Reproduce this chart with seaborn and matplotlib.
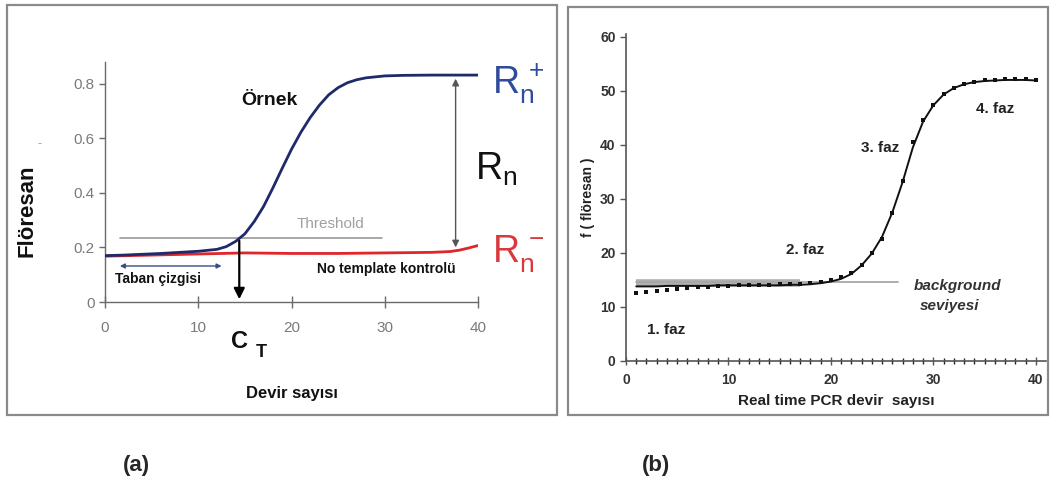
import matplotlib
matplotlib.use("Agg")
import matplotlib.pyplot as plt
import seaborn as sns
import pandas as pd
from matplotlib.patches import Rectangle

sns.set_theme(style="ticks")
plt.rcParams["font.family"] = ["Liberation Sans", "DejaVu Sans"]

# ---- panel (a): amplification vs. no-template control ----
cycles_a = [0, 2, 4, 6, 8, 10, 12, 13, 14, 15, 16, 17, 18, 19, 20, 21, 22, 23,
            24, 25, 26, 27, 28, 30, 32, 35, 38, 40]
sample_rn = [0.170, 0.172, 0.175, 0.178, 0.182, 0.186, 0.193, 0.203, 0.222,
             0.250, 0.295, 0.350, 0.418, 0.490, 0.560, 0.622, 0.676, 0.722,
             0.760, 0.786, 0.804, 0.815, 0.822, 0.829, 0.831, 0.832, 0.832, 0.832]
cycles_ntc = [0, 5, 10, 15, 20, 25, 30, 35, 37, 38, 39, 40]
ntc_rn = [0.168, 0.172, 0.176, 0.180, 0.178, 0.178, 0.180, 0.182, 0.185,
          0.190, 0.198, 0.207]
threshold = 0.235
threshold_span = [1.6, 29.7]
ct_cycle = 14.4
baseline_span = [1.3, 12.8]
rn_cycle = 37.6
yticks_a = [0, 0.2, 0.4, 0.6, 0.8]
yticklabels_a = ["0", "0.2", "0.4", "0.6", "0.8"]
xticks_a = [0, 10, 20, 30, 40]

# ---- panel (b): four phases of a real time PCR run ----
cycles_b = list(range(1, 41))
fit_f = [13.8, 13.8, 13.8, 13.9, 13.9, 13.9, 13.9, 13.9, 14.0, 14.0,
         14.0, 14.0, 14.0, 14.0, 14.0, 14.1, 14.1, 14.2, 14.4, 14.7,
         15.2, 16.1, 17.7, 19.9, 23.0, 27.5, 33.1, 39.5, 44.3, 47.3,
         49.3, 50.5, 51.2, 51.6, 51.8, 51.9, 52.0, 52.0, 52.0, 51.9]
measured_f = [12.6, 12.8, 13.0, 13.2, 13.35, 13.5, 13.6, 13.7, 13.8, 13.9,
              14.0, 14.0, 14.1, 14.1, 14.2, 14.2, 14.3, 14.5, 14.6, 14.9,
              15.5, 16.3, 17.8, 20.0, 22.6, 27.3, 33.3, 40.5, 44.6, 47.4,
              49.4, 50.6, 51.3, 51.7, 51.9, 52.0, 52.1, 52.1, 52.1, 51.9]
background_band = [1, 17]
background_line = [1, 26.6]
background_level = 14.4
yticks_b = [0, 10, 20, 30, 40, 50, 60]
xticks_b = [0, 10, 20, 30, 40]

df_sample = pd.DataFrame({"cycle": cycles_a, "rn": sample_rn})
df_ntc = pd.DataFrame({"cycle": cycles_ntc, "rn": ntc_rn})
df_fit = pd.DataFrame({"cycle": cycles_b, "f": fit_f})
df_meas = pd.DataFrame({"cycle": cycles_b, "f": measured_f})

W, H = 1051, 482
fig = plt.figure(figsize=(W / 100, H / 100), dpi=100)


def fig_box(x0, y0, x1, y1):
    """Rectangle in pixel coordinates measured from the top-left corner."""
    return [x0 / W, 1 - y1 / H, (x1 - x0) / W, (y1 - y0) / H]


# panel frames
for (x0, y0, x1, y1) in [(7, 5, 557, 415), (568, 7, 1048, 415)]:
    fig.patches.append(Rectangle((x0 / W, 1 - y1 / H), (x1 - x0) / W, (y1 - y0) / H,
                                 transform=fig.transFigure, fill=False,
                                 edgecolor="#8a8a8a", linewidth=1.6))

axis_grey = "#6a6a6a"

# ================= panel (a) =================
ax1 = fig.add_axes(fig_box(105, 62, 478, 302))
ax1.set_xlim(0, 40)
ax1.set_ylim(0, 0.88)
sns.despine(ax=ax1)
for s in ["left", "bottom"]:
    ax1.spines[s].set_color(axis_grey)
    ax1.spines[s].set_linewidth(1.0)

ax1.plot(threshold_span, [threshold, threshold], color="#9a9a9a", lw=1.2, zorder=2)
sns.lineplot(data=df_ntc, x="cycle", y="rn", ax=ax1, color="#e0262a", lw=2.0, zorder=3)
sns.lineplot(data=df_sample, x="cycle", y="rn", ax=ax1, color="#1f2a6b", lw=2.0, zorder=4)

ax1.set_xticks(xticks_a)
ax1.set_yticks(yticks_a)
ax1.set_yticklabels(yticklabels_a)
ax1.tick_params(axis="both", colors=axis_grey, labelcolor="#7a7a7a", labelsize=11,
                length=4, width=1.0)
ax1.tick_params(axis="x", direction="inout", length=8, pad=10)
ax1.set_xlabel("")
ax1.set_ylabel("")

ax1.text(24.2, 0.285, "Threshold", color="#a0a0a0", fontsize=11, ha="center",
         va="center")
ax1.text(17.6, 0.74, "Örnek", color="#111111", fontsize=14, fontweight="bold",
         ha="center", va="center")
ax1.text(30.2, 0.12, "No template kontrolü", color="#111111", fontsize=10,
         fontweight="bold", ha="center", va="center")
ax1.text(1.1, 0.085, "Taban çizgisi", color="#111111", fontsize=10,
         fontweight="bold", ha="left", va="center")

# baseline span
ax1.annotate("", xy=(baseline_span[0], 0.132), xytext=(baseline_span[1], 0.132),
             arrowprops=dict(arrowstyle="<|-|>", color="#3a4a8a", lw=1.0,
                             mutation_scale=7))
# Ct drop line
ax1.annotate("", xy=(ct_cycle, 0.0), xytext=(ct_cycle, threshold),
             arrowprops=dict(arrowstyle="-|>", color="black", lw=1.6,
                             mutation_scale=16), zorder=5)
# delta Rn
ax1.annotate("", xy=(rn_cycle, 0.19), xytext=(rn_cycle, 0.829),
             arrowprops=dict(arrowstyle="<|-|>", color="#555555", lw=1.0,
                             mutation_scale=10))

ax1.text(ct_cycle, -0.145, "C", fontsize=17, fontweight="bold", ha="center",
         va="center", color="#111111")
ax1.text(ct_cycle + 2.4, -0.185, "T", fontsize=13, fontweight="bold", ha="center",
         va="center", color="#111111")

ax1.text(44.3, 0.80, r"$\mathregular{R_n^{\,+}}$", color="#2f4b9b", fontsize=27,
         ha="center", va="center")
ax1.text(42.0, 0.485, r"$\mathregular{R_n}$", color="#111111", fontsize=27,
         ha="center", va="center")
ax1.text(44.3, 0.175, r"$\mathregular{R_n^{\,-}}$", color="#d9383c", fontsize=27,
         ha="center", va="center")

ax1.text(-0.21, 0.38, "Flöresan", transform=ax1.transAxes, rotation=90,
         fontsize=16, fontweight="bold", ha="center", va="center",
         color="#111111")
ax1.text(-0.175, 0.66, "-", transform=ax1.transAxes, fontsize=9,
         ha="center", va="center", color="#9a9a9a")
ax1.text(20, -0.38, "Devir sayısı", transform=ax1.get_xaxis_transform(),
         fontsize=12, fontweight="bold", ha="center", va="center",
         color="#111111")

# ================= panel (b) =================
ax2 = fig.add_axes(fig_box(626, 34, 1046, 361))
ax2.set_xlim(0, 41)
ax2.set_ylim(0, 60.5)
sns.despine(ax=ax2)
for s in ["left", "bottom"]:
    ax2.spines[s].set_color("#555555")
    ax2.spines[s].set_linewidth(1.2)

ax2.plot(background_band, [background_level, background_level], color="#b0b0b0",
         lw=5.5, solid_capstyle="butt", zorder=2)
ax2.plot(background_line, [background_level + 0.3, background_level + 0.3],
         color="#a8a8a8", lw=1.3, zorder=2)
sns.lineplot(data=df_fit, x="cycle", y="f", ax=ax2, color="#111111", lw=1.4,
             zorder=3)
sns.scatterplot(data=df_meas, x="cycle", y="f", ax=ax2, color="#111111",
                marker="s", s=5, linewidth=0, zorder=4)

ax2.set_xticks(xticks_b)
ax2.set_xticks(cycles_b, minor=True)
ax2.set_yticks(yticks_b)
ax2.tick_params(axis="both", colors="#555555", labelcolor="#333333",
                labelsize=10, width=1.0)
ax2.tick_params(axis="x", which="major", direction="inout", length=6, pad=6)
ax2.tick_params(axis="x", which="minor", direction="inout", length=4)
ax2.tick_params(axis="y", length=4)
for lab in ax2.get_xticklabels() + ax2.get_yticklabels():
    lab.set_fontweight("bold")
ax2.set_xlabel("Real time PCR devir  sayısı", fontsize=11, fontweight="bold",
               color="#222222", labelpad=5)
ax2.set_ylabel("f ( flöresan )", fontsize=10, fontweight="bold",
               color="#222222", labelpad=4)

for (x, y, t) in [(3.9, 5.7, "1. faz"), (17.5, 20.6, "2. faz"),
                  (24.8, 39.5, "3. faz"), (36.0, 46.7, "4. faz")]:
    ax2.text(x, y, t, fontsize=11, fontweight="bold", ha="center", va="center",
             color="#222222")
ax2.text(32.4, 13.8, "background", fontsize=11, fontweight="bold",
         style="italic", ha="center", va="center", color="#333333")
ax2.text(31.6, 10.1, "seviyesi", fontsize=11, fontweight="bold",
         style="italic", ha="center", va="center", color="#333333")

# panel tags
fig.text(136 / W, 1 - 465 / H, "(a)", fontsize=16, fontweight="bold",
         ha="center", va="center")
fig.text(656 / W, 1 - 465 / H, "(b)", fontsize=16, fontweight="bold",
         ha="center", va="center")

fig.savefig("out.png", dpi=100, facecolor="white")
